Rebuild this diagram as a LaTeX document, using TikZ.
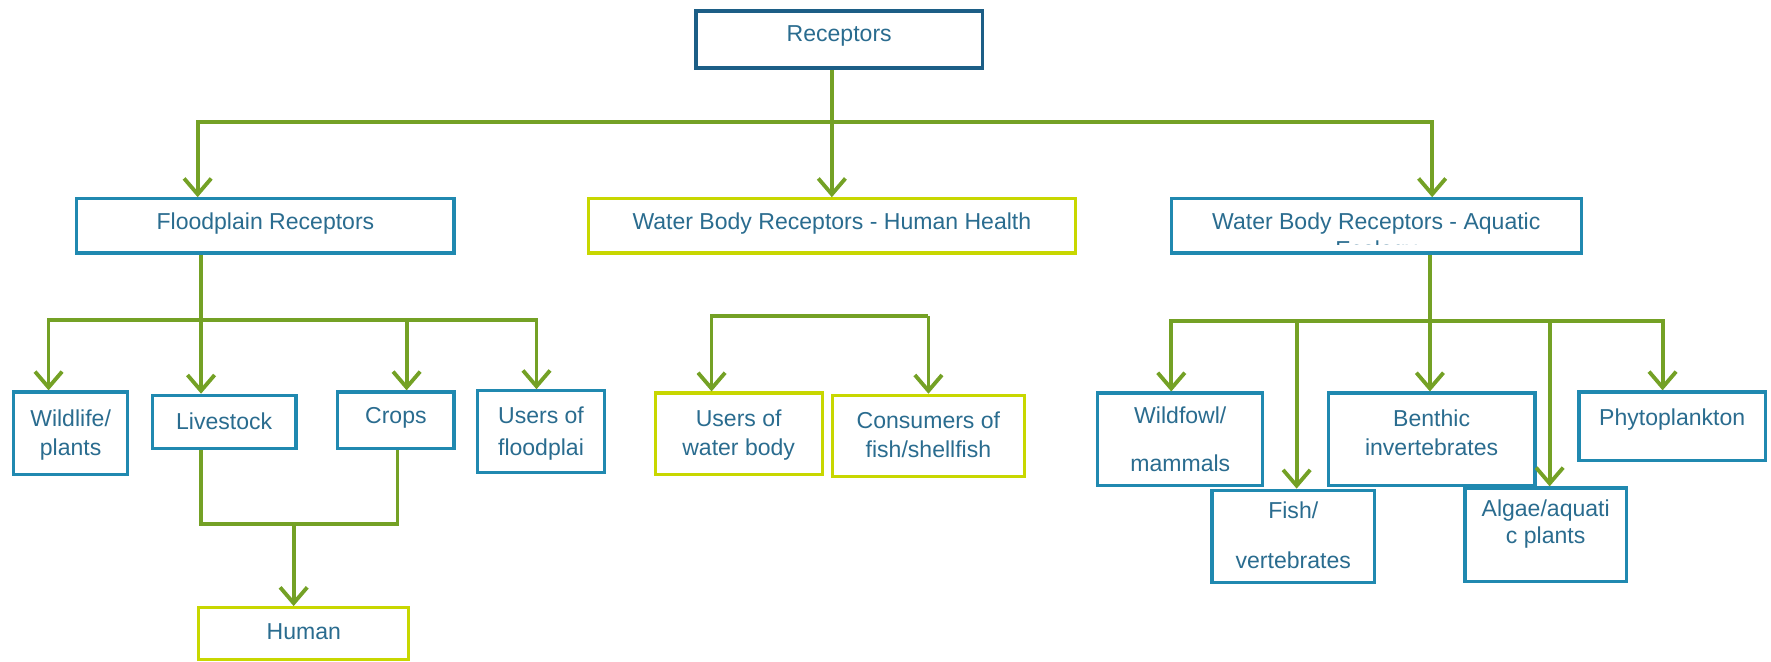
\documentclass[tikz,border=0pt]{standalone}
\usepackage{fontspec}
\setmainfont{Liberation Sans}
\usetikzlibrary{arrows.meta,calc}
\definecolor{boxblue}{HTML}{2089B0}
\definecolor{darkblue}{HTML}{1C5E86}
\definecolor{textblue}{HTML}{2A6C8F}
\definecolor{ygreen}{HTML}{C8D700}
\definecolor{agreen}{HTML}{74A125}
\tikzset{
  cell/.style={draw=boxblue, line width=1.4pt, fill=white, inner sep=0pt, rectangle},
  topcell/.style={cell, draw=darkblue, line width=1.6pt},
  hcell/.style={cell, draw=ygreen},
  txt/.style={text=textblue, font=\fontsize{10.2pt}{13pt}\selectfont, align=center, inner sep=0pt},
  link/.style={draw=agreen, line width=1.7pt},
  arr/.style={link, -{Straight Barb[length=7pt,width=12pt]}},
}
% box: name, style, x1, y1, x2, y2, text y, text
\newcommand\cellbox[8]{%
  \node[#2, minimum width={(#5-#3)*0.5pt}, minimum height={(#6-#4)*0.5pt}]
    (#1) at ({(#3+#5)/2},{(#4+#6)/2}) {};
  \node[txt] (#1-t) at ({(#3+#5)/2},{#7+2}) {#8};}
\begin{document}
\begin{tikzpicture}[x=0.5pt,y=-0.5pt]
\useasboundingbox (0,0) rectangle (1568,586);

% boxes
\cellbox{rec}{topcell}{616}{10}{870}{60}{30}{Receptors}
\cellbox{flood}{cell}{68}{176}{402}{224}{196}{Floodplain Receptors}
\cellbox{hh}{hcell}{521}{176}{952}{224}{196}{Water Body Receptors - Human Health}
\cellbox{aq}{cell}{1037}{176}{1400}{224}{196}{Water Body Receptors - Aquatic}
\begin{scope}
  \clip (aq.north west) rectangle ([yshift=4.5pt]aq.south east);
  \node[txt, anchor=base] (aq-t2) at ([yshift=-1.5pt]aq.south) {Ecology};
\end{scope}

\cellbox{wild}{cell}{12}{347}{113}{420}{383}{Wildlife/\\plants}
\cellbox{live}{cell}{135}{350}{262}{397}{371}{Livestock}
\cellbox{crops}{cell}{299}{347}{402}{397}{368}{Crops}
\cellbox{users}{cell}{423}{346}{535}{418}{382}{Users of\\[1pt]floodplai}
\cellbox{human}{hcell}{176}{538}{362}{584}{557}{Human}

\cellbox{uwb}{hcell}{580}{348}{728}{420}{383}{Users of\\water body}
\cellbox{cons}{hcell}{737}{350}{907}{422}{383}{Consumers of\\fish/shellfish}

\cellbox{fowl}{cell}{972}{348}{1118}{430}{387}{Wildfowl/\\[8pt]mammals}
\cellbox{fish}{cell}{1073}{434}{1217}{516}{472}{Fish/\\[9pt]vertebrates}
\cellbox{benth}{cell}{1176}{348}{1359}{430}{381}{Benthic\\invertebrates}
\cellbox{algae}{cell}{1297}{432}{1440}{515}{462}{Algae/aquati\\[-1pt]c plants}
\cellbox{phyto}{cell}{1398}{347}{1563}{408}{369}{Phytoplankton}

% junction points
\coordinate (t1L) at (175,108);
\coordinate (t1R) at (1268,108);
\coordinate (t2)  at (178,283);
\coordinate (t2L) at (43,283);
\coordinate (t2C) at (360,283);
\coordinate (t2R) at (475,283);
\coordinate (t3L) at (178,464);
\coordinate (t3)  at (260,464);
\coordinate (t3R) at (352,464);
\coordinate (t4L) at (630,280);
\coordinate (t4R) at (822,280);
\coordinate (t5)  at (1266,284);
\coordinate (t5a) at (1037,284);
\coordinate (t5b) at (1148,284);
\coordinate (t5d) at (1372,284);
\coordinate (t5e) at (1472,284);

% top level
\draw[arr] (rec.south -| hh.north) -- (hh.north);
\draw[arr] (t1L -| hh.north) -- (t1L) -- (t1L |- flood.north);
\draw[arr] (t1L -| hh.north) -- (t1R) -- (t1R |- aq.north);

% floodplain branch
\draw[link] (t2 |- flood.south) -- (t2);
\draw[arr] (t2) -- (t2 |- live.north);
\draw[arr] (t2) -- (t2L) -- (t2L |- wild.north);
\draw[arr] (t2) -- (t2R) -- (t2R |- users.north);
\draw[arr] (t2C) -- (t2C |- crops.north);
\draw[link] (t3L |- live.south) -- (t3L) -- (t3R) -- (t3R |- crops.south);
\draw[arr] (t3) -- (t3 |- human.north);

% human health branch
\draw[arr] (t4R) -- (t4L) -- (t4L |- uwb.north);
\draw[arr] (t4R) -- (t4R |- cons.north);

% aquatic branch
\draw[link] (t5 |- aq.south) -- (t5);
\draw[arr] (t5) -- (t5 |- benth.north);
\draw[arr] (t5) -- (t5a) -- (t5a |- fowl.north);
\draw[arr] (t5) -- (t5e) -- (t5e |- phyto.north);
\draw[arr] (t5b) -- (t5b |- fish.north);
\draw[arr] (t5d) -- (t5d |- algae.north);
\end{tikzpicture}
\end{document}
